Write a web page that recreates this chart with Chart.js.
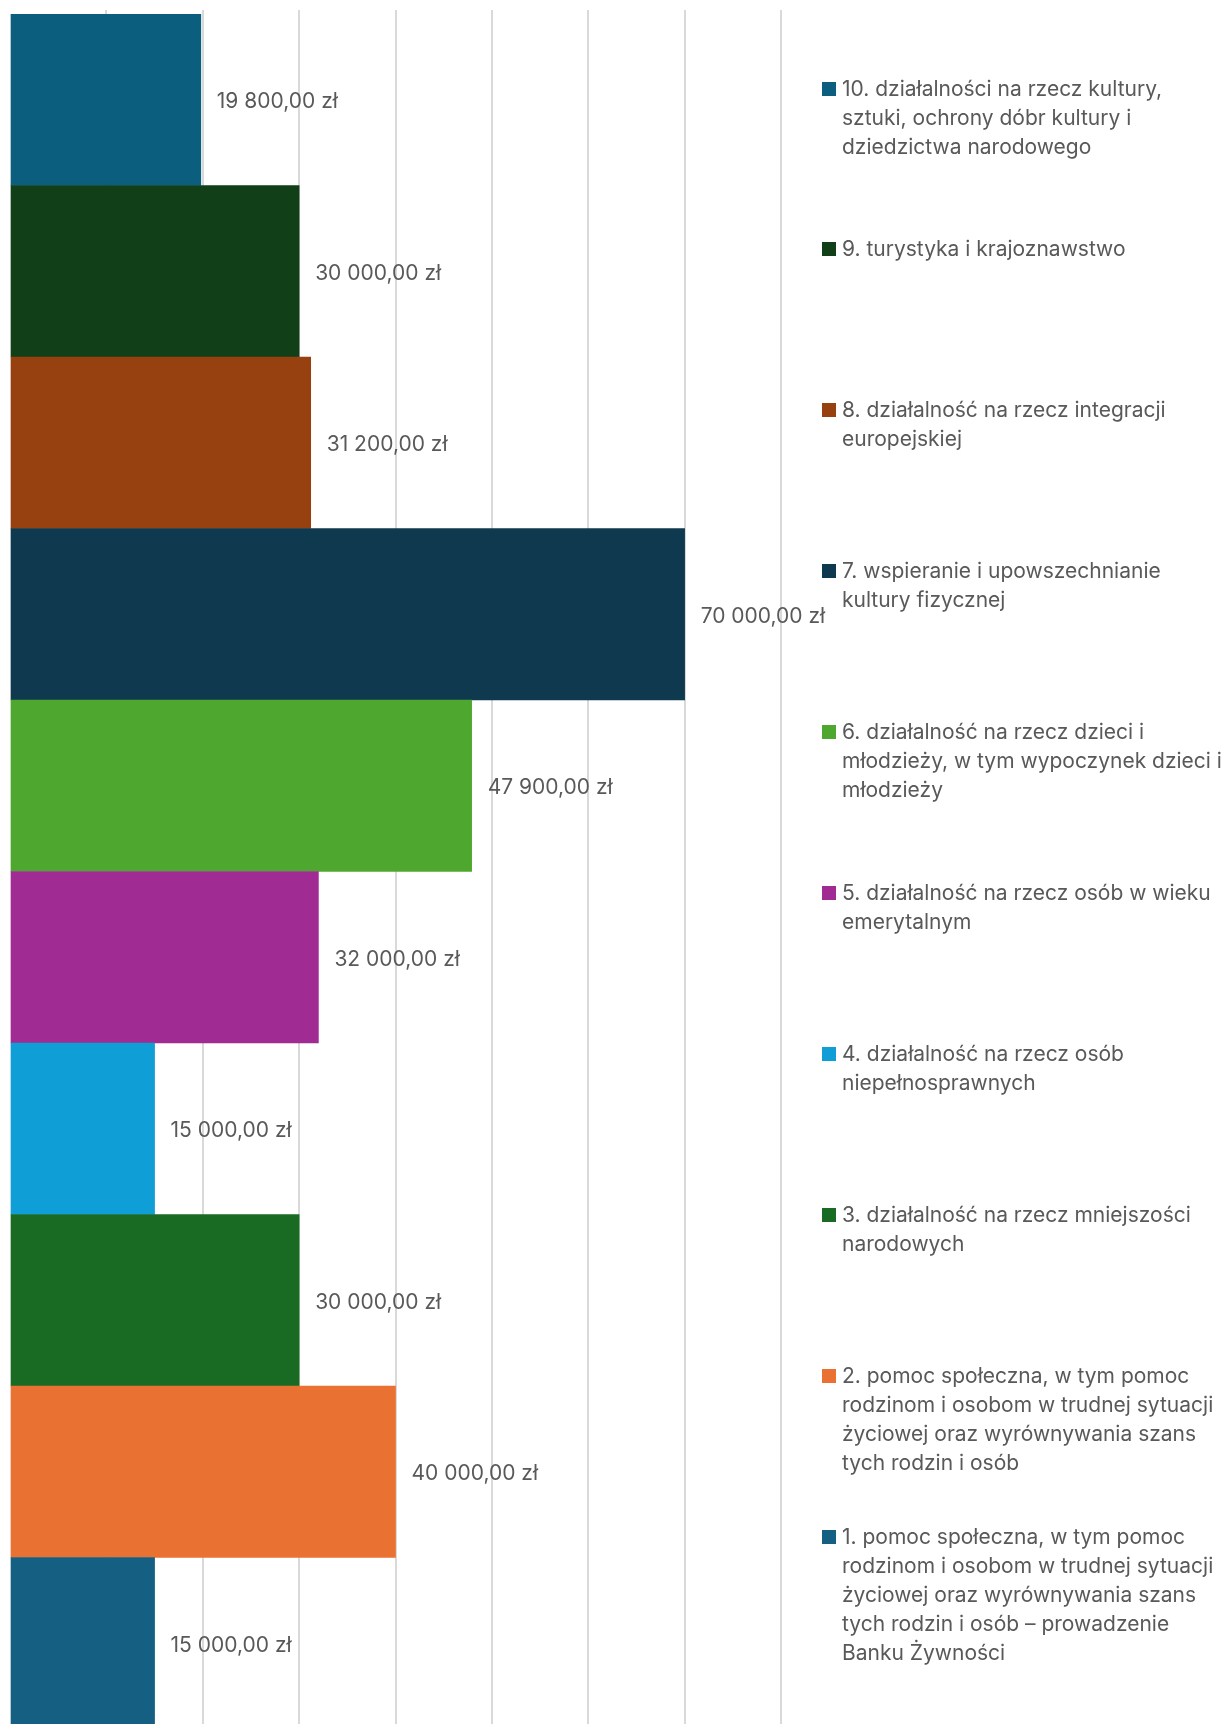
<!DOCTYPE html>
<html>
<head>
<meta charset="utf-8">
<script src="https://cdn.jsdelivr.net/npm/chart.js@4"></script>
<style>
  html, body { margin: 0; padding: 0; background: #fff; overflow: hidden; }
  #wrap { position: relative; width: 1230px; height: 1729px; }
  #chart { position: absolute; left: 0; top: 0; }
  #legend { position: absolute; left: 0; top: 0; width: 1230px; height: 1729px; pointer-events: none; }
  .item { position: absolute; left: 822px; font-family: Inter, "Noto Sans", sans-serif; font-size: 21px; line-height: 29px; color: #595959; white-space: nowrap; }
  .item .box { position: absolute; left: 0; top: 8px; width: 14px; height: 14px; }
  .item .txt { margin-left: 20px; }
</style>
</head>
<body>
<div id="wrap">
  <canvas id="chart" width="1230" height="1729"></canvas>
  <div id="legend"></div>
</div>
<script>
// categories, top to bottom (each as lines of the legend text)
const categories = [
    ['10. działalności na rzecz kultury,', 'sztuki, ochrony dóbr kultury i', 'dziedzictwa narodowego'],
    ['9. turystyka i krajoznawstwo'],
    ['8. działalność na rzecz integracji', 'europejskiej'],
    ['7. wspieranie i upowszechnianie', 'kultury fizycznej'],
    ['6. działalność na rzecz dzieci i', 'młodzieży, w tym wypoczynek dzieci i', 'młodzieży'],
    ['5. działalność na rzecz osób w wieku', 'emerytalnym'],
    ['4. działalność na rzecz osób', 'niepełnosprawnych'],
    ['3. działalność na rzecz mniejszości', 'narodowych'],
    ['2. pomoc społeczna, w tym pomoc', 'rodzinom i osobom w trudnej sytuacji', 'życiowej oraz wyrównywania szans', 'tych rodzin i osób'],
    ['1. pomoc społeczna, w tym pomoc', 'rodzinom i osobom w trudnej sytuacji', 'życiowej oraz wyrównywania szans', 'tych rodzin i osób – prowadzenie', 'Banku Żywności']
];
const amounts = [19800, 30000, 31200, 70000, 47900, 32000, 15000, 30000, 40000, 15000];
const barColors = ['#0b5e7e', '#113f17', '#974010', '#0e394e', '#4ea72e', '#a02b93', '#0f9ed5', '#196b24', '#e97132', '#156082'];
const axisMax = 80000;
const axisStep = 10000;

const fmtZl = v => {
    const s = Math.round(v).toString().replace(/\B(?=(\d{3})+(?!\d))/g, '\u00a0');
    return s + ',00 zł';
};

// value labels right of each bar
const valueLabels = {
    id: 'valueLabels',
    afterDatasetsDraw(chart) {
        const ctx = chart.ctx;
        const meta = chart.getDatasetMeta(0);
        ctx.save();
        ctx.font = '21px Inter, "Noto Sans", sans-serif';
        ctx.fillStyle = '#595959';
        ctx.textBaseline = 'middle';
        ctx.textAlign = 'left';
        meta.data.forEach((bar, i) => {
            ctx.fillText(fmtZl(chart.data.datasets[0].data[i]), bar.x + 16, bar.y + 2);
        });
        ctx.restore();
    }
};

const ctx = document.getElementById('chart').getContext('2d');
const chart = new Chart(ctx, {
    type: 'bar',
    data: {
        labels: categories,
        datasets: [{
            data: amounts,
            backgroundColor: barColors,
            borderWidth: 0,
            barPercentage: 1,
            categoryPercentage: 1
        }]
    },
    options: {
        indexAxis: 'y',
        responsive: false,
        animation: false,
        layout: { padding: { left: 10, top: 10, right: 449, bottom: 0 } },
        plugins: {
            legend: { display: false },
            tooltip: { enabled: false }
        },
        scales: {
            x: {
                position: 'top',
                min: 0,
                max: axisMax,
                ticks: { display: false, stepSize: axisStep },
                border: { display: false },
                grid: {
                    color: c => (c.tick && c.tick.value === 0) ? 'rgba(0,0,0,0)' : '#d9d9d9',
                    lineWidth: 2,
                    drawTicks: true,
                    tickLength: 4
                }
            },
            y: {
                display: false
            }
        }
    },
    plugins: [valueLabels]
});

// legend on the right, built from the chart data
const legendEl = document.getElementById('legend');
chart.data.labels.forEach((lines, i) => {
    const item = document.createElement('div');
    item.className = 'item';
    item.style.top = (88 + i * 160.9 - 14.5) + 'px';
    const box = document.createElement('div');
    box.className = 'box';
    box.style.background = chart.data.datasets[0].backgroundColor[i];
    const txt = document.createElement('div');
    txt.className = 'txt';
    txt.innerHTML = lines.map(l => l.replace(/&/g, '&amp;')).join('<br>');
    item.appendChild(box);
    item.appendChild(txt);
    legendEl.appendChild(item);
});
</script>
</body>
</html>
